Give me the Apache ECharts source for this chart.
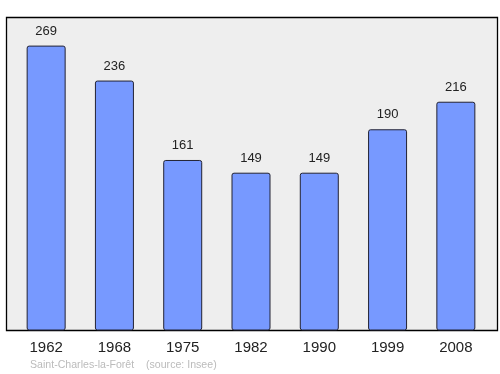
<!DOCTYPE html>
<html><head><meta charset="utf-8">
<script src="https://cdn.jsdelivr.net/npm/echarts@6/dist/echarts.min.js"></script>
<style>html,body{margin:0;padding:0;background:#fff}#c{width:500px;height:374px}</style>
</head><body><div id="c"></div>
<script>
const years = ['1962','1968','1975','1982','1990','1999','2008'];
const population = [269, 236, 161, 149, 149, 190, 216];
const placeName = 'Saint-Charles-la-Forêt';
const sourceText = '(source: Insee)';

const chart = echarts.init(document.getElementById('c'), null, {renderer:'canvas'});
chart.setOption({
  animation:false,
  backgroundColor:'#ffffff',
  graphic:[
    {type:'rect', z:-10, shape:{x:6.5,y:17.5,width:491,height:313},
     style:{fill:'#eeeeee', stroke:'#000000', lineWidth:1.3}},
    {type:'text', left:30, top:360, style:{text:placeName, fill:'#bbbbbb', font:'10.6px "Liberation Sans", Arial, sans-serif'}},
    {type:'text', left:146, top:360, style:{text:sourceText, fill:'#bbbbbb', font:'10.6px "Liberation Sans", Arial, sans-serif'}}
  ],
  grid:{left:12, right:10, top:17, bottom:43.5},
  xAxis:{type:'category', data:years,
    axisLine:{show:false}, axisTick:{show:false},
    axisLabel:{color:'#222', fontSize:15, margin:10, fontFamily:'"Liberation Sans", Arial, sans-serif'}},
  yAxis:{type:'value', min:0, max:296, show:false, splitLine:{show:false}},
  series:[{type:'bar', data:population, barWidth:39,
    itemStyle:{color:'#7799ff', borderColor:'#222233', borderWidth:1, borderRadius:2},
    label:{show:true, position:'top', distance:8, color:'#222', fontSize:13, fontFamily:'"Liberation Sans", Arial, sans-serif'}}]
});
</script></body></html>
